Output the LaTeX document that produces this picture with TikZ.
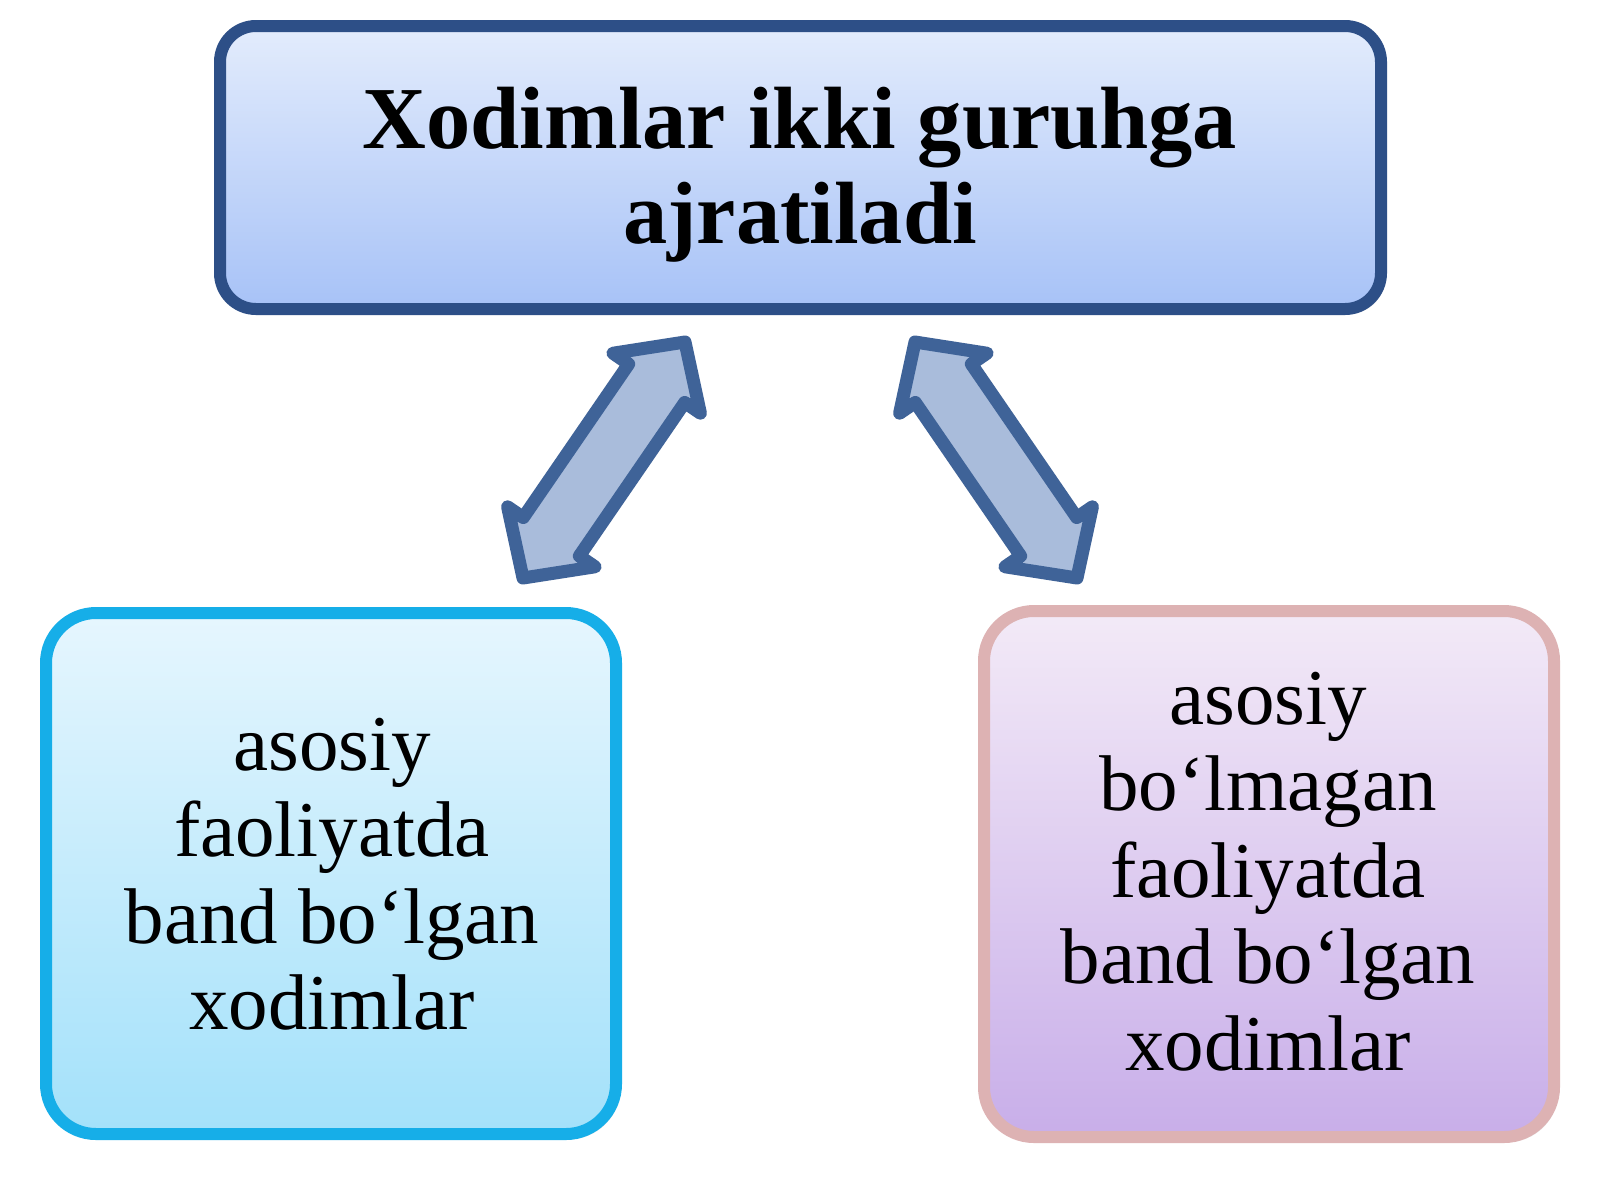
\documentclass[tikz,border=0pt]{standalone}
\usepackage{fontspec}
\setmainfont{Liberation Serif}
\usetikzlibrary{calc,shadows}
\definecolor{topborder}{HTML}{2D4F87}
\definecolor{toptop}{HTML}{E3ECFC}
\definecolor{topbot}{HTML}{A7C2F7}
\definecolor{leftborder}{HTML}{16AEE8}
\definecolor{lefttop}{HTML}{E6F6FE}
\definecolor{leftbot}{HTML}{A3E1FA}
\definecolor{rightborder}{HTML}{DDB2B3}
\definecolor{righttop}{HTML}{F3EAF7}
\definecolor{rightbot}{HTML}{C8AEE9}
\definecolor{arrowfill}{HTML}{A9BCDB}
\definecolor{arrowline}{HTML}{3F6398}
\newcommand\myblockarrow[3]{%
  \coordinate (#1-p1) at ($(#2)!25pt!(#3)$);
  \coordinate (#1-p2) at ($(#3)!25pt!(#2)$);
  \draw[blockarrowsty] (#2)
    -- ($(#1-p1)!26.5pt!90:(#3)$) -- ($(#1-p1)!17pt!90:(#3)$)
    -- ($(#1-p2)!17pt!90:(#3)$) -- ($(#1-p2)!26.5pt!90:(#3)$)
    -- (#3)
    -- ($(#1-p2)!26.5pt!-90:(#3)$) -- ($(#1-p2)!17pt!-90:(#3)$)
    -- ($(#1-p1)!17pt!-90:(#3)$) -- ($(#1-p1)!26.5pt!-90:(#3)$)
    -- cycle;
}
\begin{document}
\begin{tikzpicture}[x=0.5pt,y=0.5pt,
  boxsty/.style={draw, line width=6pt, inner sep=0pt, shading=axis,
    drop shadow={opacity=0.18, shadow xshift=2pt, shadow yshift=-2.5pt}},
  topbox/.style={boxsty, rounded corners=18pt, draw=topborder,
    top color=toptop, bottom color=topbot,
    minimum width=580.5pt, minimum height=141.5pt},
  leftbox/.style={boxsty, rounded corners=25pt, draw=leftborder,
    top color=lefttop, bottom color=leftbot,
    minimum width=285pt, minimum height=260.5pt},
  rightbox/.style={boxsty, rounded corners=25pt, draw=rightborder,
    top color=righttop, bottom color=rightbot,
    minimum width=285pt, minimum height=263pt},
  titletext/.style={anchor=base, inner sep=0pt,
    font=\fontsize{44.2pt}{47.5pt}\selectfont\bfseries},
  bodytext/.style={anchor=base, inner sep=0pt,
    font=\fontsize{39.5pt}{43.3pt}\selectfont},
  blockarrowsty/.style={draw=arrowline, fill=arrowfill, line width=6.5pt, line join=round}
]
\useasboundingbox (0,0) rectangle (1600,-1200);
\fill[white] (0,0) rectangle (1600,-1200);

\node[topbox] (top) at (800.5,-167.5) {};
\node[leftbox] (left) at (331,-873.5) {};
\node[rightbox] (right) at (1269,-874) {};

\node[titletext] (toptext) at (800,-148)
  {\begin{tabular}[t]{@{}c@{}}Xodimlar ikki guruhga\\ajratiladi\end{tabular}};
\node[bodytext] (lefttext) at (332,-770)
  {\begin{tabular}[t]{@{}c@{}}asosiy\\faoliyatda\\band bo‘lgan\\xodimlar\end{tabular}};
\node[bodytext] (righttext) at (1268,-724)
  {\begin{tabular}[t]{@{}c@{}}asosiy\\bo‘lmagan\\faoliyatda\\band bo‘lgan\\xodimlar\end{tabular}};

\coordinate (la) at (523,-578);
\coordinate (lb) at (685,-342);
\coordinate (ra) at (1077,-578);
\coordinate (rb) at (915,-342);
\myblockarrow{larrow}{la}{lb}
\myblockarrow{rarrow}{ra}{rb}
\end{tikzpicture}
\end{document}
